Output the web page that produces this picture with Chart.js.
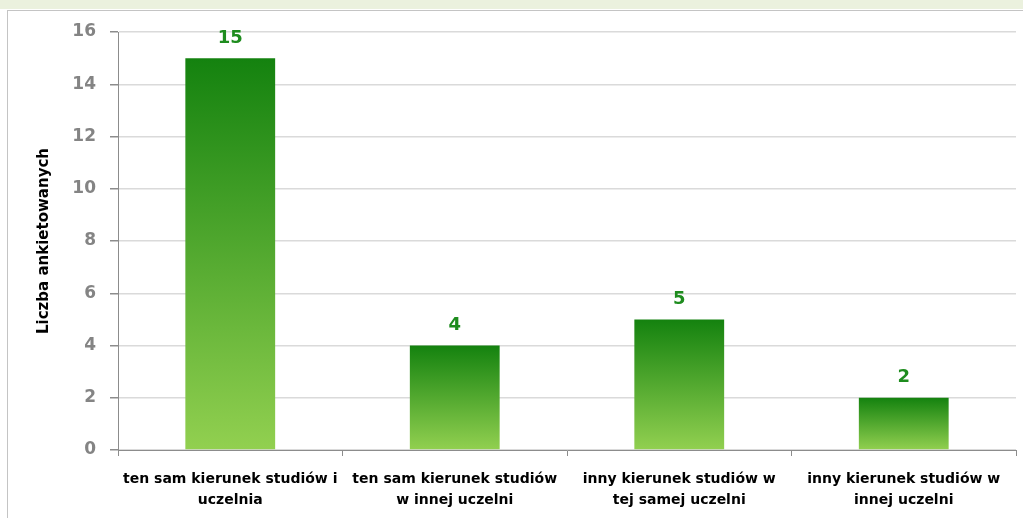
<!DOCTYPE html>
<html>
<head>
<meta charset="utf-8">
<script src="https://cdn.jsdelivr.net/npm/chart.js@4"></script>
<style>
    html, body { margin: 0; padding: 0; background: #fff; }
    #band { position: absolute; left: 0; top: 0; width: 1023px; height: 9px; background: #ebf1de; }
    #frame { position: absolute; left: 7px; top: 10px; width: 1016px; height: 508px; border-top: 1px solid #c4c4c4; border-left: 1px solid #c4c4c4; }
    #wrap { position: absolute; left: 0; top: 0; width: 1023px; height: 518px; }
</style>
</head>
<body>
<div id="band"></div>
<div id="frame"></div>
<div id="wrap"><canvas id="chart"></canvas></div>
<script>
"use strict";

// chart values
var categories = [
    ["ten sam kierunek studiów i", "uczelnia"],
    ["ten sam kierunek studiów", "w innej uczelni"],
    ["inny kierunek studiów w", "tej samej uczelni"],
    ["inny kierunek studiów w", "innej uczelni"]
];
var respondents = [15, 4, 5, 2];
var yTicks = [0, 2, 4, 6, 8, 10, 12, 14, 16];
var yTitle = "Liczba ankietowanych";

var DARK_GREEN = "#14820f";
var LIGHT_GREEN = "#92d050";

function barGradient(context) {
    var chart = context.chart;
    var area = chart.chartArea;
    if (!area) {
        return LIGHT_GREEN;
    }
    var yScale = chart.scales.y;
    var top = yScale.getPixelForValue(context.raw);
    var bottom = yScale.getPixelForValue(0);
    var g = chart.ctx.createLinearGradient(0, top, 0, bottom);
    g.addColorStop(0, DARK_GREEN);
    g.addColorStop(1, LIGHT_GREEN);
    return g;
}

// draws the value above each bar
var valueLabels = {
    id: "valueLabels",
    afterDatasetsDraw: function (chart) {
        var ctx = chart.ctx;
        var meta = chart.getDatasetMeta(0);
        ctx.save();
        ctx.fillStyle = "#1e8c1e";
        ctx.font = "bold 18px 'DejaVu Sans'";
        ctx.textAlign = "center";
        ctx.textBaseline = "bottom";
        for (var i = 0; i < meta.data.length; i++) {
            var bar = meta.data[i];
            ctx.fillText(String(respondents[i]), bar.x, bar.y - 11);
        }
        ctx.restore();
    }
};

new Chart(document.getElementById("chart"), {
    type: "bar",
    data: {
        labels: categories,
        datasets: [{
            data: respondents,
            backgroundColor: barGradient,
            borderWidth: 0,
            barPercentage: 0.5,
            categoryPercentage: 0.8
        }]
    },
    options: {
        responsive: true,
        maintainAspectRatio: false,
        animation: false,
        layout: { padding: { top: 32, right: 7, bottom: 0, left: 0 } },
        plugins: {
            legend: { display: false },
            tooltip: { enabled: false }
        },
        scales: {
            x: {
                afterFit: function (scale) { scale.height = 68; },
                grid: {
                    offset: true,
                    drawOnChartArea: false,
                    drawTicks: true,
                    tickLength: 6,
                    tickColor: "#8c8c8c"
                },
                border: { color: "#8c8c8c", width: 1 },
                ticks: {
                    color: "#000",
                    padding: 13,
                    maxRotation: 0,
                    autoSkip: false,
                    font: { family: "DejaVu Sans", weight: "bold", size: 14, lineHeight: 1.5 }
                }
            },
            y: {
                min: 0,
                max: 16,
                afterFit: function (scale) { scale.width = 118; },
                afterBuildTicks: function (scale) {
                    scale.ticks = yTicks.map(function (v) { return { value: v }; });
                },
                grid: {
                    color: "#dadada",
                    lineWidth: 1.5,
                    tickLength: 8,
                    tickColor: "#8c8c8c"
                },
                border: { color: "#8c8c8c", width: 1 },
                ticks: {
                    color: "#848484",
                    padding: 14,
                    font: { family: "DejaVu Sans", weight: "bold", size: 17 }
                },
                title: {
                    display: true,
                    text: yTitle,
                    color: "#000",
                    padding: { top: 35, bottom: 0 },
                    font: { family: "DejaVu Sans", weight: "bold", size: 15 }
                }
            }
        }
    },
    plugins: [valueLabels]
});
</script>
</body>
</html>
